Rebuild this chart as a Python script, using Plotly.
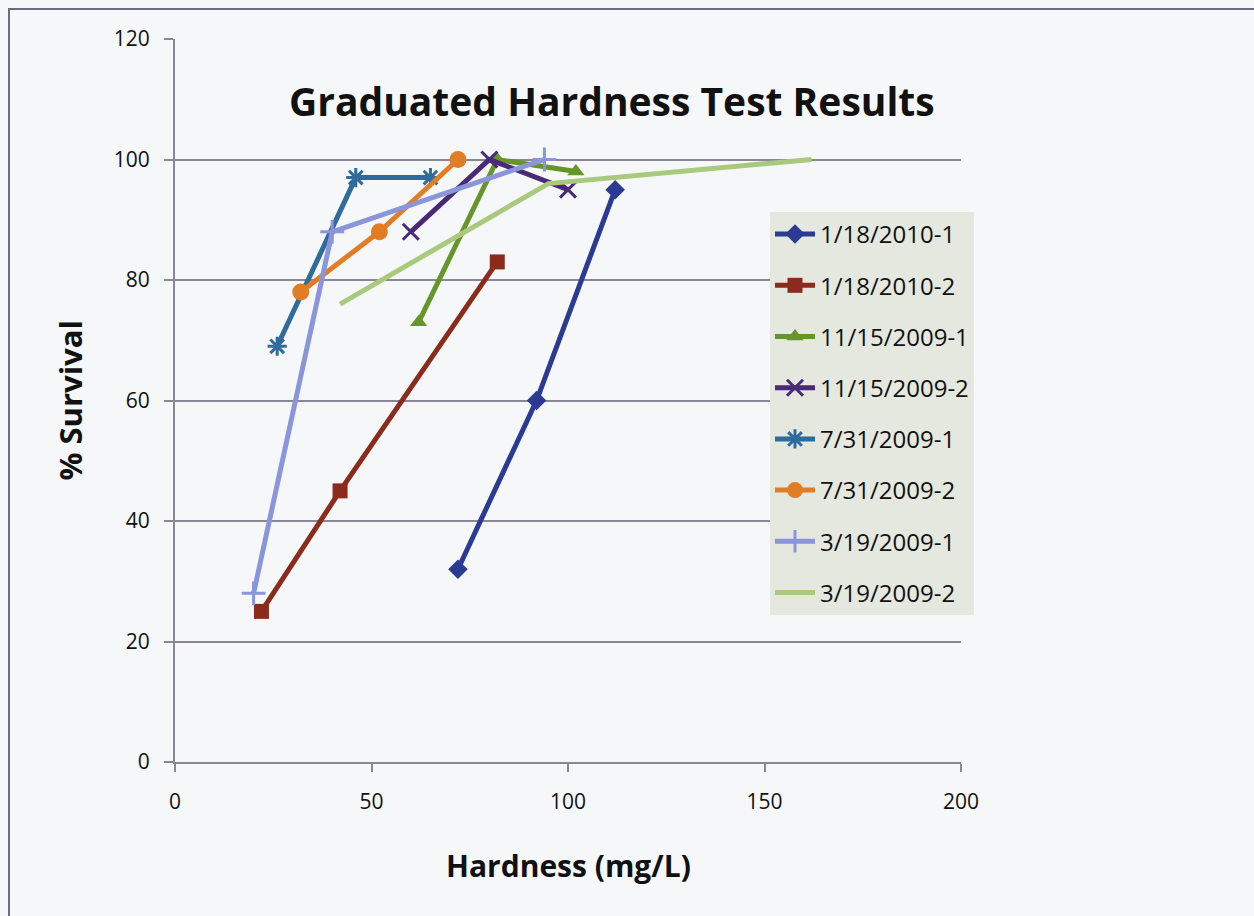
import plotly.graph_objects as go

# ---- data ----
names = ["1/18/2010-1", "1/18/2010-2", "11/15/2009-1", "11/15/2009-2",
         "7/31/2009-1", "7/31/2009-2", "3/19/2009-1", "3/19/2009-2"]
x_jan10_1 = [72, 92, 112]
y_jan10_1 = [32, 60, 95]
x_jan10_2 = [22, 42, 82]
y_jan10_2 = [25, 45, 83]
x_nov09_1 = [62, 82, 102]
y_nov09_1 = [73, 100, 98]
x_nov09_2 = [60, 80, 100]
y_nov09_2 = [88, 100, 95]
x_jul09_1 = [26, 46, 65]
y_jul09_1 = [69, 97, 97]
x_jul09_2 = [32, 52, 72]
y_jul09_2 = [78, 88, 100]
x_mar09_1 = [20, 40, 94]
y_mar09_1 = [28, 88, 100]
x_mar09_2 = [42, 95, 162]
y_mar09_2 = [76, 96, 100]

xs = [x_jan10_1, x_jan10_2, x_nov09_1, x_nov09_2, x_jul09_1, x_jul09_2, x_mar09_1, x_mar09_2]
ys = [y_jan10_1, y_jan10_2, y_nov09_1, y_nov09_2, y_jul09_1, y_jul09_2, y_mar09_1, y_mar09_2]

colors = ["#2c3b92", "#8a2b1c", "#66952a", "#4a2a78", "#2f6b9c", "#e07d25", "#8b95da", "#a9c97c"]
symbols = ["diamond", "square", "triangle-up", "x-thin-open", "asterisk-open", "circle", "cross-thin-open", None]
sizes = [15, 15, 15, 16, 16, 17, 17, 0]

FONT = "Open Sans"
bg = "#f5f7f9"
grid = "#8a8696"

fig = go.Figure()
for i in range(len(names)):
    mk = dict(color=colors[i], size=sizes[i])
    if symbols[i] is None:
        mode = "lines"
    else:
        mode = "lines+markers"
        mk["symbol"] = symbols[i]
        if symbols[i].endswith("open"):
            mk["line"] = dict(color=colors[i], width=3)
    fig.add_trace(go.Scatter(
        x=xs[i], y=ys[i], name=names[i], mode=mode,
        line=dict(color=colors[i], width=5),
        marker=mk, legendgroup=names[i],
    ))

fig.update_layout(
    width=1254, height=916,
    margin=dict(l=175, r=293, t=39, b=154),
    paper_bgcolor=bg, plot_bgcolor=bg,
    font=dict(family=FONT, color="#111111"),
    showlegend=True,
    legend=dict(
        x=0.757, y=0.7607, xanchor="left", yanchor="top",
        bgcolor="#e4e8df", borderwidth=0,
        font=dict(family=FONT, size=24, color="#111111"),
        tracegroupgap=17,
        itemwidth=40,
    ),
    xaxis=dict(
        range=[0, 200], dtick=50, tick0=0,
        showgrid=False, zeroline=False,
        showline=True, linecolor=grid, linewidth=2,
        ticks="outside", ticklen=8, tickcolor=grid, tickwidth=2,
        tickfont=dict(family=FONT, size=21, color="#111111"),
        ticklabelstandoff=12,
    ),
    yaxis=dict(
        range=[0, 120], dtick=20, tick0=0,
        showgrid=True, gridcolor=grid, gridwidth=2,
        zeroline=False,
        showline=True, linecolor=grid, linewidth=2,
        ticks="outside", ticklen=9, tickcolor=grid, tickwidth=2,
        tickfont=dict(family=FONT, size=21, color="#111111"),
        ticklabelstandoff=10,
    ),
    shapes=[dict(type="rect", xref="paper", yref="paper",
                 x0=-0.2112, x1=1.6, y0=-0.4, y1=1.0415,
                 line=dict(color="#6f6a7c", width=2), fillcolor="rgba(0,0,0,0)",
                 layer="below")],
    annotations=[
        dict(text="<b>Graduated Hardness Test Results</b>", xref="paper", yref="paper",
             x=0.556, y=0.9156, xanchor="center", yanchor="middle", showarrow=False,
             font=dict(family=FONT, size=39, color="#111111")),
        dict(text="<b>Hardness (mg/L)</b>", xref="paper", yref="paper",
             x=0.5, y=-0.1425, xanchor="center", yanchor="middle", showarrow=False,
             font=dict(family=FONT, size=30, color="#111111")),
        dict(text="<b>% Survival</b>", xref="paper", yref="paper",
             x=-0.1336, y=0.5, xanchor="center", yanchor="middle", showarrow=False,
             textangle=-90,
             font=dict(family=FONT, size=31, color="#111111")),
    ],
)

fig.write_html("out.html")
